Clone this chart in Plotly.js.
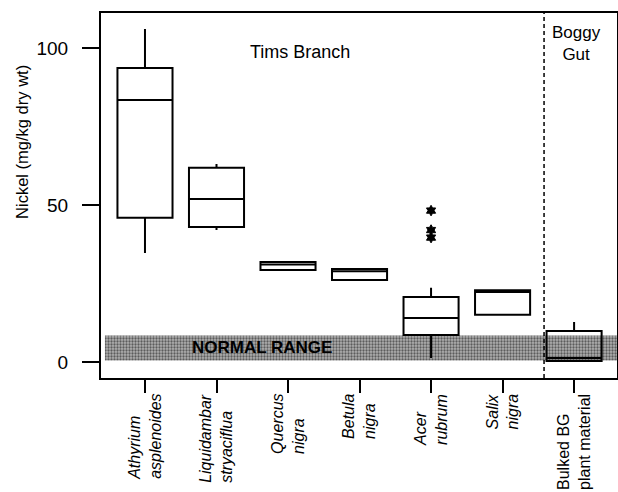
<!DOCTYPE html>
<html>
<head>
<meta charset="utf-8">
<script src="https://cdn.plot.ly/plotly-3.0.1.min.js"></script>
<style>html,body{margin:0;padding:0;background:#fff;}#chart{width:618px;height:492px;}</style>
</head>
<body>
<div id="chart"></div>
<script>
// ---- data ----
const categoryLabels = [
  "<i>Athyrium</i><br><i>asplenoides</i>",
  "<i>Liquidambar</i><br><i>stryaciflua</i>",
  "<i>Quercus</i><br><i>nigra</i>",
  "<i>Betula</i><br><i>nigra</i>",
  "<i>Acer</i><br><i>rubrum</i>",
  "<i>Salix</i><br><i>nigra</i>",
  "Bulked BG<br>plant material"
];
const categoryPos = [0, 1, 2, 3, 4, 5, 6];
const lowerWhisker = [34.7, 42.0, 29.3, 26.1, 1.3, 15.0, 0.3];
const q1Values     = [45.9, 43.0, 29.3, 26.1, 8.6, 15.0, 0.3];
const medianValues = [83.4, 51.9, 31.0, 28.9, 14.0, 22.3, 1.3];
const q3Values     = [93.6, 61.8, 31.8, 29.6, 20.7, 22.8, 9.9];
const upperWhisker = [106.0, 63.0, 31.8, 29.6, 23.6, 22.8, 12.7];
const outlierX = [4, 4, 4];
const outlierY = [48.2, 42.0, 39.6];
const normalRange = [0.5, 8.4];
const bandX = [-0.56, 6.6];
const siteDivider = 5.58;
const yTicks = [0, 50, 100];

const FONT = "Liberation Sans, Arial, sans-serif";

const band = {
  type: "bar",
  x: [(bandX[0] + bandX[1]) / 2],
  y: [normalRange[1] - normalRange[0]],
  base: [normalRange[0]],
  width: [bandX[1] - bandX[0]],
  marker: {
    color: "#a0a0a0",
    line: {width: 0},
    pattern: {shape: ".", bgcolor: "#b0b0b0", fgcolor: "#5c5c5c", size: 3, solidity: 0.45}
  },
  hoverinfo: "skip", showlegend: false
};

const boxes = {
  type: "box",
  x: categoryPos,
  q1: q1Values, median: medianValues, q3: q3Values,
  lowerfence: lowerWhisker, upperfence: upperWhisker,
  boxpoints: false,
  width: 0.77,
  whiskerwidth: 0,
  fillcolor: "rgba(0,0,0,0)",
  line: {color: "#000", width: 2},
  showlegend: false, hoverinfo: "skip"
};

const outliers = {
  type: "scatter", mode: "markers",
  x: outlierX, y: outlierY,
  marker: {symbol: "hexagram", size: 8, color: "#000", line: {color: "#000", width: 1}},
  showlegend: false, hoverinfo: "skip"
};

const annotations = categoryPos.map((p, i) => ({
  x: p, xref: "x", y: -0.038, yref: "paper",
  text: categoryLabels[i], showarrow: false,
  textangle: -90, align: "left",
  xanchor: "center", yanchor: "top",
  font: {family: FONT, size: 16, color: "#000"}
}));
annotations.push(
  {x: 2.17, xref: "x", y: 98.7, yref: "y", text: "Tims Branch", showarrow: false,
   font: {family: FONT, size: 18, color: "#000"}, xanchor: "center", yanchor: "middle"},
  {x: 6.04, xref: "x", y: 1, yref: "paper", yshift: -8, text: "Boggy<br>Gut", showarrow: false,
   font: {family: FONT, size: 17, color: "#000"}, xanchor: "center", yanchor: "top"},
  {x: 1.64, xref: "x", y: 4.5, yref: "y", text: "<b>NORMAL RANGE</b>", showarrow: false,
   font: {family: FONT, size: 17, color: "#000"}, xanchor: "center", yanchor: "middle"},
  {x: -0.153, xref: "paper", y: 0.647, yref: "paper", text: "Nickel (mg/kg dry wt)", showarrow: false,
   textangle: -90, font: {family: FONT, size: 16.5, color: "#000"}, xanchor: "center", yanchor: "middle"}
);

const layout = {
  width: 618, height: 492,
  margin: {l: 101, r: 1, t: 13, b: 114},
  paper_bgcolor: "#fff", plot_bgcolor: "#fff",
  font: {family: FONT, color: "#000"},
  showlegend: false,
  xaxis: {
    range: [-0.615, 6.6], tickvals: categoryPos, showticklabels: false,
    ticks: "outside", ticklen: 13, tickwidth: 2, tickcolor: "#000",
    showline: true, mirror: true, linewidth: 2, linecolor: "#000",
    showgrid: false, zeroline: false, fixedrange: true
  },
  yaxis: {
    range: [-5.1, 111.1], tickvals: yTicks, ticktext: yTicks.map(String),
    ticks: "outside", ticklen: 17, tickwidth: 2, tickcolor: "#000",
    ticklabelstandoff: 10,
    tickfont: {family: FONT, size: 19, color: "#000"},
    showline: true, mirror: true, linewidth: 2, linecolor: "#000",
    showgrid: false, zeroline: false, fixedrange: true
  },
  shapes: [{
    type: "line", xref: "x", yref: "paper", x0: siteDivider, x1: siteDivider, y0: 0, y1: 1,
    line: {color: "#000", width: 1.5, dash: "4px,3px"}
  }],
  annotations: annotations
};

Plotly.newPlot("chart", [band, boxes, outliers], layout, {staticPlot: true, displayModeBar: false});
</script>
</body>
</html>
